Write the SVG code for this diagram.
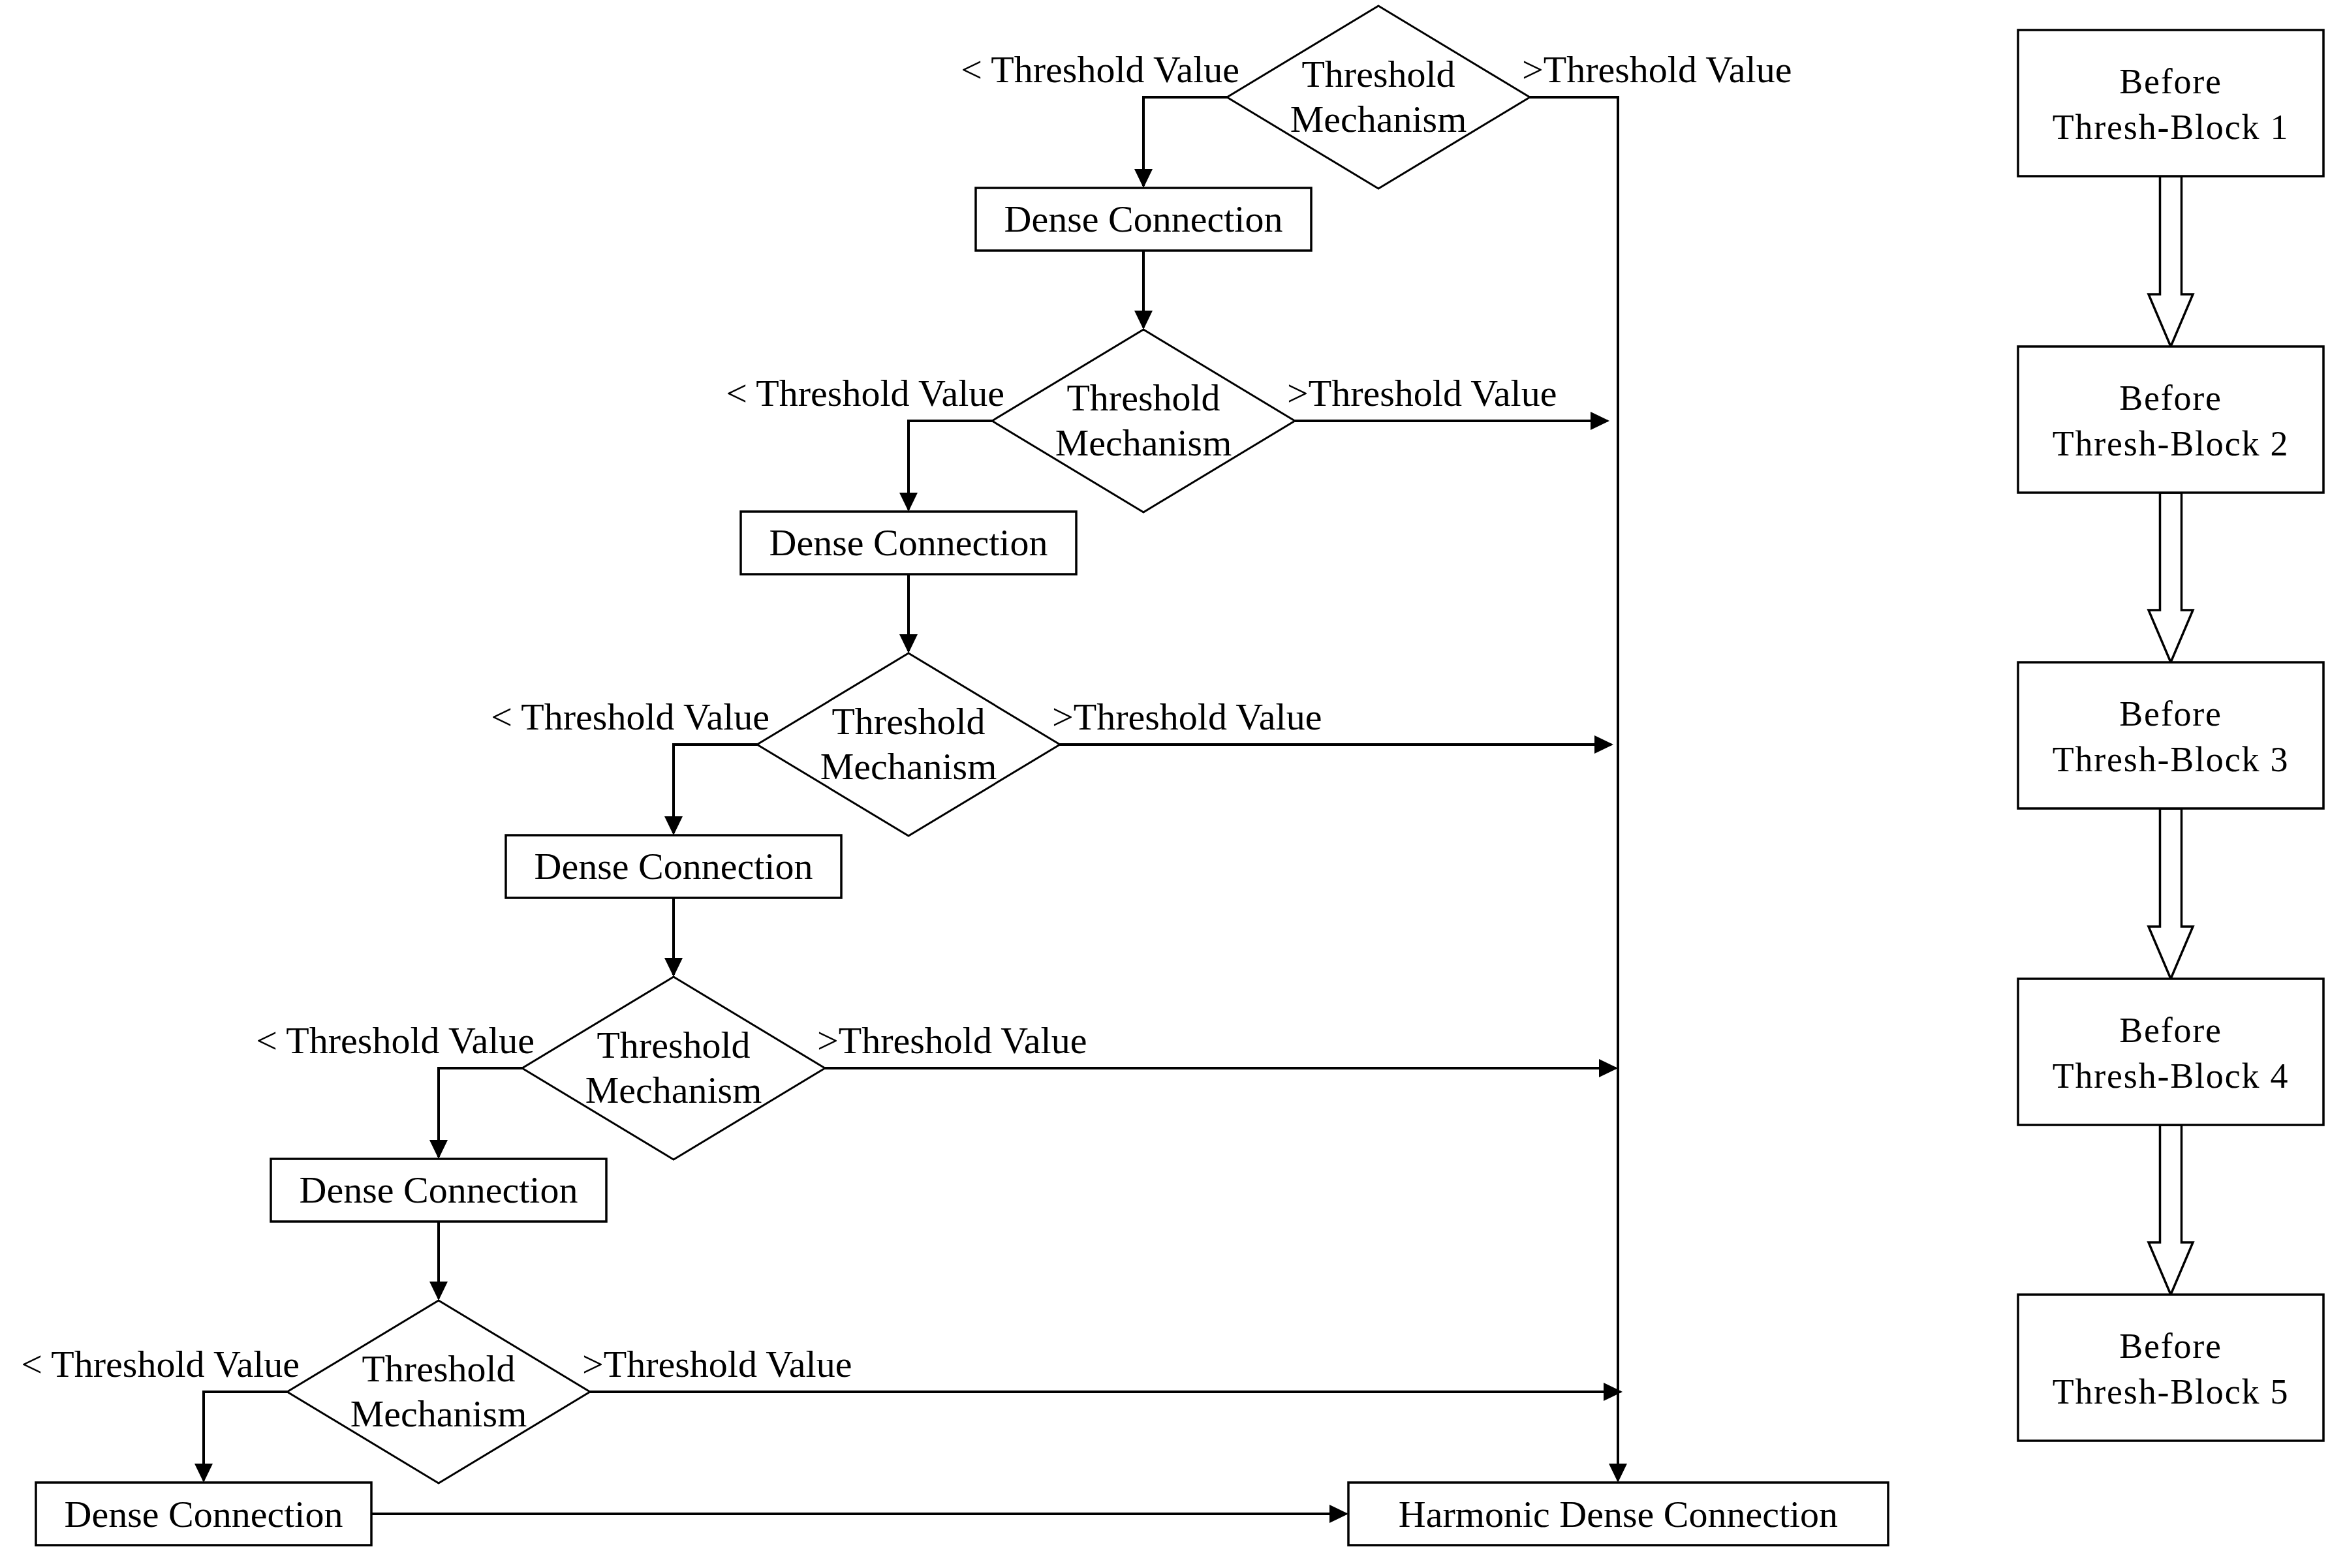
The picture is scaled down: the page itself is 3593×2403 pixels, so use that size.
<svg xmlns="http://www.w3.org/2000/svg" width="3593" height="2403" viewBox="0 0 3593 2403">
  <style>
    text { font-family: "Liberation Serif", "Times New Roman", serif; fill: #000; }
    .t { font-size: 58px; }
    .c { text-anchor: middle; }
    .e { text-anchor: end; }
    .blk { font-size: 54px; letter-spacing: 1.8px; text-anchor: middle; }
    .box { fill: #fff; stroke: #000; stroke-width: 3.5; }
    .dia { fill: #fff; stroke: #000; stroke-width: 3; }
    .wire { fill: none; stroke: #000; stroke-width: 4; marker-end: url(#tip); }
    .hollow { fill: #fff; stroke: #000; stroke-width: 3.5; stroke-linejoin: miter; }
  </style>
  <defs>
    <marker id="tip" markerUnits="userSpaceOnUse" markerWidth="30" markerHeight="30" refX="26" refY="14" orient="auto">
      <path d="M0,0 L29,14 L0,28 Z" fill="#000"/>
    </marker>
  </defs>
  <rect width="3593" height="2403" fill="#fff"/>

  <!-- connectors -->
  <g id="connectors">
    <!-- below-threshold branches into dense blocks -->
    <path class="wire" d="M1880,149 H1752 V285"/>
    <path class="wire" d="M1520,645 H1392 V781"/>
    <path class="wire" d="M1160,1141 H1032 V1277"/>
    <path class="wire" d="M800,1637 H672 V1773"/>
    <path class="wire" d="M440,2133 H312 V2269"/>
    <!-- dense blocks into next threshold -->
    <path class="wire" d="M1752,384 V502"/>
    <path class="wire" d="M1392,880 V998"/>
    <path class="wire" d="M1032,1376 V1494"/>
    <path class="wire" d="M672,1872 V1990"/>
    <!-- above-threshold trunk into harmonic block -->
    <path class="wire" d="M2344,149 H2479 V2269"/>
    <path class="wire" d="M1984,645 H2463"/>
    <path class="wire" d="M1624,1141 H2469"/>
    <path class="wire" d="M1264,1637 H2476"/>
    <path class="wire" d="M904,2133 H2483"/>
    <!-- last dense block into harmonic block -->
    <path class="wire" d="M569,2320 H2063"/>
  </g>

  <!-- threshold decisions -->
  <g id="thresh1">
    <polygon class="dia" points="2112,9 2344,149 2112,289 1880,149"/>
    <text class="t c" x="2112" y="133">Threshold</text>
    <text class="t c" x="2112" y="202">Mechanism</text>
    <text class="t e" x="1899" y="126">&lt; Threshold Value</text>
    <text class="t" x="2332" y="126">&gt;Threshold Value</text>
  </g>
  <g id="thresh2">
    <polygon class="dia" points="1752,505 1984,645 1752,785 1520,645"/>
    <text class="t c" x="1752" y="629">Threshold</text>
    <text class="t c" x="1752" y="698">Mechanism</text>
    <text class="t e" x="1539" y="622">&lt; Threshold Value</text>
    <text class="t" x="1972" y="622">&gt;Threshold Value</text>
  </g>
  <g id="thresh3">
    <polygon class="dia" points="1392,1001 1624,1141 1392,1281 1160,1141"/>
    <text class="t c" x="1392" y="1125">Threshold</text>
    <text class="t c" x="1392" y="1194">Mechanism</text>
    <text class="t e" x="1179" y="1118">&lt; Threshold Value</text>
    <text class="t" x="1612" y="1118">&gt;Threshold Value</text>
  </g>
  <g id="thresh4">
    <polygon class="dia" points="1032,1497 1264,1637 1032,1777 800,1637"/>
    <text class="t c" x="1032" y="1621">Threshold</text>
    <text class="t c" x="1032" y="1690">Mechanism</text>
    <text class="t e" x="819" y="1614">&lt; Threshold Value</text>
    <text class="t" x="1252" y="1614">&gt;Threshold Value</text>
  </g>
  <g id="thresh5">
    <polygon class="dia" points="672,1993 904,2133 672,2273 440,2133"/>
    <text class="t c" x="672" y="2117">Threshold</text>
    <text class="t c" x="672" y="2186">Mechanism</text>
    <text class="t e" x="459" y="2110">&lt; Threshold Value</text>
    <text class="t" x="892" y="2110">&gt;Threshold Value</text>
  </g>

  <!-- dense connection blocks -->
  <g id="dense1">
    <rect class="box" x="1495" y="288" width="514" height="96"/>
    <text class="t c" x="1752" y="355">Dense Connection</text>
  </g>
  <g id="dense2">
    <rect class="box" x="1135" y="784" width="514" height="96"/>
    <text class="t c" x="1392" y="851">Dense Connection</text>
  </g>
  <g id="dense3">
    <rect class="box" x="775" y="1280" width="514" height="96"/>
    <text class="t c" x="1032" y="1347">Dense Connection</text>
  </g>
  <g id="dense4">
    <rect class="box" x="415" y="1776" width="514" height="96"/>
    <text class="t c" x="672" y="1843">Dense Connection</text>
  </g>
  <g id="dense5">
    <rect class="box" x="55" y="2272" width="514" height="96"/>
    <text class="t c" x="312" y="2340">Dense Connection</text>
  </g>

  <g id="harmonic">
    <rect class="box" x="2066" y="2272" width="827" height="96"/>
    <text class="t c" x="2479.5" y="2340">Harmonic Dense Connection</text>
  </g>

  <!-- stage column -->
  <g id="stage-arrows">
    <polygon class="hollow" points="3309.5,270 3309.5,451 3292,451 3326,531 3360,451 3342.5,451 3342.5,270"/>
    <polygon class="hollow" points="3309.5,755 3309.5,935 3292,935 3326,1015 3360,935 3342.5,935 3342.5,755"/>
    <polygon class="hollow" points="3309.5,1239 3309.5,1420 3292,1420 3326,1500 3360,1420 3342.5,1420 3342.5,1239"/>
    <polygon class="hollow" points="3309.5,1724 3309.5,1904 3292,1904 3326,1984 3360,1904 3342.5,1904 3342.5,1724"/>
  </g>
  <g id="stage1">
    <rect class="box" x="3092" y="46" width="468" height="224"/>
    <text class="blk" x="3326" y="143">Before</text>
    <text class="blk" x="3326" y="213">Thresh-Block 1</text>
  </g>
  <g id="stage2">
    <rect class="box" x="3092" y="531" width="468" height="224"/>
    <text class="blk" x="3326" y="628">Before</text>
    <text class="blk" x="3326" y="698">Thresh-Block 2</text>
  </g>
  <g id="stage3">
    <rect class="box" x="3092" y="1015" width="468" height="224"/>
    <text class="blk" x="3326" y="1112">Before</text>
    <text class="blk" x="3326" y="1182">Thresh-Block 3</text>
  </g>
  <g id="stage4">
    <rect class="box" x="3092" y="1500" width="468" height="224"/>
    <text class="blk" x="3326" y="1597">Before</text>
    <text class="blk" x="3326" y="1667">Thresh-Block 4</text>
  </g>
  <g id="stage5">
    <rect class="box" x="3092" y="1984" width="468" height="224"/>
    <text class="blk" x="3326" y="2081">Before</text>
    <text class="blk" x="3326" y="2151">Thresh-Block 5</text>
  </g>
</svg>
